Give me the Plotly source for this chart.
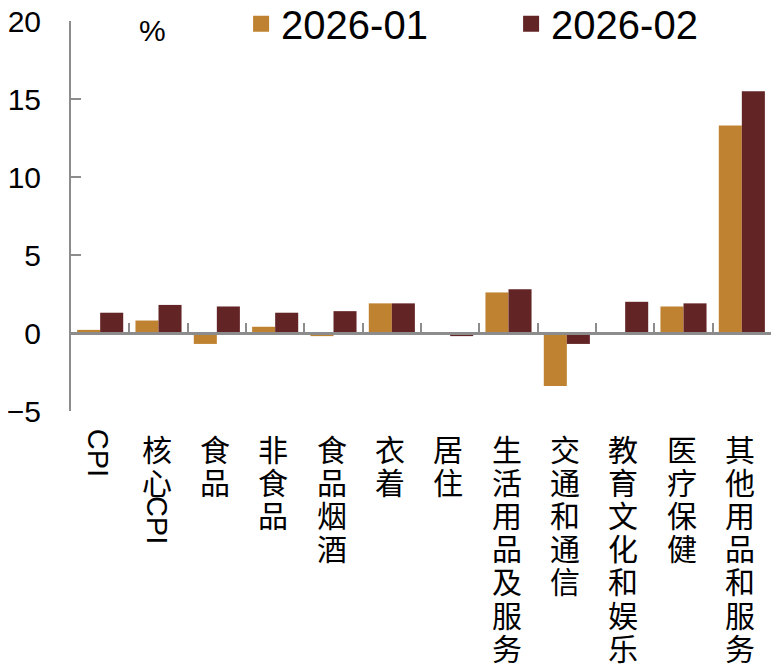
import re
import plotly.graph_objects as go

# -----------------------------
# Data
# -----------------------------
categories = ["CPI", "核心CPI", "食品", "非食品", "食品烟酒", "衣着", "居住",
              "生活用品及服务", "交通和通信", "教育文化和娱乐", "医疗保健", "其他用品和服务"]
jan_2026 = [0.2, 0.8, -0.7, 0.4, -0.2, 1.9, -0.1, 2.6, -3.4, 0.0, 1.7, 13.3]
feb_2026 = [1.3, 1.8, 1.7, 1.3, 1.4, 1.9, -0.2, 2.8, -0.7, 2.0, 1.9, 15.5]
series_names = ["2026-01", "2026-02"]
y_ticks = [-5, 0, 5, 10, 15, 20]

colors = ["#BF8230", "#632426"]
axis_grey = "#8c8c8c"
latin_font = "Liberation Sans, Arial, sans-serif"
cjk_font = "Noto Sans CJK SC, sans-serif"

# -----------------------------
# Bars
# -----------------------------
fig = go.Figure()
for name, vals, col in zip(series_names, [jan_2026, feb_2026], colors):
    fig.add_trace(go.Bar(x=categories, y=vals, name=name, marker_color=col,
                         marker_line_width=0, showlegend=False))

# legend entries with bigger squares
for name, col in zip(series_names, colors):
    fig.add_trace(go.Scatter(x=[None], y=[None], mode="markers", name=name,
                             marker=dict(symbol="square", size=20, color=col)))

# -----------------------------
# Vertical category labels
# -----------------------------
plot_w = 780 - 63 - 17
plot_h = 671 - 13 - 268
char_step = 33.2
cpi_step = 44
for cat in categories:
    cursor = 20.0
    for tok in re.findall(r"[A-Za-z]+|.", cat):
        if tok.isascii():
            size = cpi_step
            fig.add_annotation(x=cat, y=0, xref="x", yref="paper", text=tok,
                               textangle=90, showarrow=False, xanchor="center",
                               yanchor="middle", xshift=-2,
                               yshift=-(cursor + size / 2),
                               font=dict(family=latin_font, size=29, color="black"))
        else:
            size = char_step
            fig.add_annotation(x=cat, y=0, xref="x", yref="paper", text=tok,
                               showarrow=False, xanchor="center", yanchor="middle",
                               xshift=-2, yshift=-(cursor + size / 2),
                               font=dict(family=cjk_font, size=30, color="black"))
        cursor += size

fig.add_annotation(x=81.5 / plot_w, y=381 / plot_h, xref="paper",
                   yref="paper", text="%", showarrow=False, xanchor="center",
                   yanchor="middle", font=dict(family=latin_font, size=30, color="black"))

# -----------------------------
# Layout
# -----------------------------
fig.update_layout(
    width=780, height=671,
    margin=dict(l=63, r=17, t=13, b=268, autoexpand=False),
    plot_bgcolor="white", paper_bgcolor="white",
    barmode="group", bargap=0.21, bargroupgap=0,
    font=dict(family=latin_font, color="black"),
    legend=dict(orientation="h", x=0.243, y=0.993, xanchor="left", yanchor="middle",
                font=dict(size=40, family=latin_font), itemsizing="trace",
                entrywidth=225, bgcolor="rgba(0,0,0,0)"),
    xaxis=dict(type="category", range=[-0.5, 11.5], anchor="free", position=0.2,
               showline=True, linecolor=axis_grey, linewidth=2.5,
               ticks="inside", tickson="boundaries", ticklen=9, tickwidth=2,
               tickcolor=axis_grey, showticklabels=False, showgrid=False,
               zeroline=False, automargin=False),
    yaxis=dict(range=[-5, 20], tickvals=y_ticks, showline=True, linecolor=axis_grey,
               linewidth=2, ticks="inside", ticklen=10, tickwidth=2,
               tickcolor=axis_grey, showgrid=False, zeroline=False, automargin=False,
               ticklabeloverflow="allow", ticklabelstandoff=22,
               tickfont=dict(size=30, family=latin_font)),
)

fig.write_html("out.html")
